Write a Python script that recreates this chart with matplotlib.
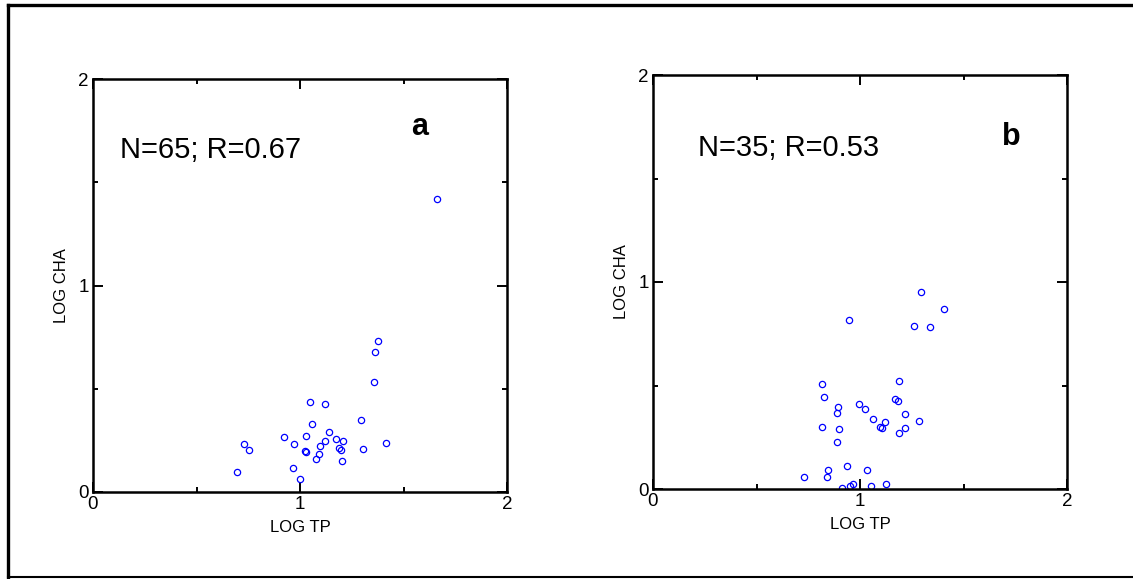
import matplotlib
matplotlib.use("Agg")
import matplotlib.pyplot as plt
from matplotlib.lines import Line2D
from matplotlib.ticker import MultipleLocator

plt.rcParams['font.family'] = ['Liberation Sans', 'DejaVu Sans']

# panel a: LOG TP vs LOG CHA (N=65)
tp_a = [1.377, 1.361, 1.359, 1.050, 1.122, 1.295, 1.060, 1.140, 0.921, 1.031,
        0.731, 0.752, 0.969, 1.122, 1.176, 1.209, 1.098, 1.026, 1.027, 1.190,
        1.200, 1.306, 1.415, 1.093, 1.079, 1.201, 0.966, 0.697, 1.000, 1.662]
cha_a = [0.730, 0.676, 0.534, 0.437, 0.425, 0.349, 0.329, 0.289, 0.266, 0.273,
         0.232, 0.203, 0.231, 0.249, 0.255, 0.249, 0.224, 0.200, 0.195, 0.215,
         0.203, 0.207, 0.237, 0.186, 0.161, 0.149, 0.118, 0.098, 0.061, 1.419]

# panel b: LOG TP vs LOG CHA (N=35)
tp_b = [1.295, 1.407, 0.947, 1.261, 1.337, 0.815, 1.188, 0.828, 1.169, 1.182,
        0.995, 1.023, 0.895, 0.887, 1.063, 1.219, 1.284, 1.119, 1.095, 1.106,
        0.818, 0.899, 1.217, 1.190, 0.889, 0.939, 1.032, 0.844, 0.842, 0.728,
        0.966, 0.950, 0.913, 1.053, 1.126]
cha_b = [0.952, 0.871, 0.815, 0.787, 0.781, 0.506, 0.520, 0.446, 0.436, 0.425,
         0.409, 0.386, 0.396, 0.366, 0.337, 0.361, 0.330, 0.325, 0.301, 0.293,
         0.298, 0.291, 0.295, 0.271, 0.227, 0.111, 0.090, 0.090, 0.060, 0.057,
         0.024, 0.014, 0.003, 0.013, 0.026]

stats = ["N=65; R=0.67", "N=35; R=0.53"]
letters = ["a", "b"]

W, H = 1133, 579
fig = plt.figure(figsize=(W / 100, H / 100), dpi=100)

boxes = [(93, 79, 507, 492), (653, 75, 1067, 489)]  # pixel boxes l, t, r, b
data = [(tp_a, cha_a), (tp_b, cha_b)]
stat_pos = [(0.13, 1.656), (0.217, 1.647)]
letter_pos = [(1.58, 1.767), (1.73, 1.70)]

for i in range(2):
    l, t, r, b = boxes[i]
    ax = fig.add_axes([l / W, 1 - b / H, (r - l) / W, (b - t) / H])
    x, y = data[i]
    ax.plot(x, y, 'o', ls='none', mfc='none', mec='#0000ff', ms=4.5, mew=0.9)
    ax.set_xlim(0, 2)
    ax.set_ylim(0, 2)
    ax.xaxis.set_major_locator(MultipleLocator(1))
    ax.yaxis.set_major_locator(MultipleLocator(1))
    ax.xaxis.set_minor_locator(MultipleLocator(0.5))
    ax.yaxis.set_minor_locator(MultipleLocator(0.5))
    ax.tick_params(which='both', direction='in', top=True, right=True, width=1.4)
    ax.tick_params(which='major', length=7, labelsize=13.5, pad=3)
    ax.tick_params(which='minor', length=3.6)
    for s in ax.spines.values():
        s.set_linewidth(1.8)
    ax.set_xlabel("LOG TP", fontsize=12, labelpad=5)
    ax.set_ylabel("LOG CHA", fontsize=12, labelpad=7)
    ax.text(stat_pos[i][0], stat_pos[i][1], stats[i], fontsize=21, va='center', ha='left')
    ax.text(letter_pos[i][0], letter_pos[i][1], letters[i], fontsize=22,
            fontweight='bold', va='center', ha='center')

# outer frame
fig.add_artist(Line2D([8 / W, 8 / W], [1 - 577 / H, 1 - 5 / H], color='black', lw=2.4))
fig.add_artist(Line2D([8 / W, 1.0], [1 - 5 / H, 1 - 5 / H], color='black', lw=2.4))
fig.add_artist(Line2D([8 / W, 1.0], [1 - 577 / H, 1 - 577 / H], color='black', lw=1.5))

fig.savefig("out.png", dpi=100)
